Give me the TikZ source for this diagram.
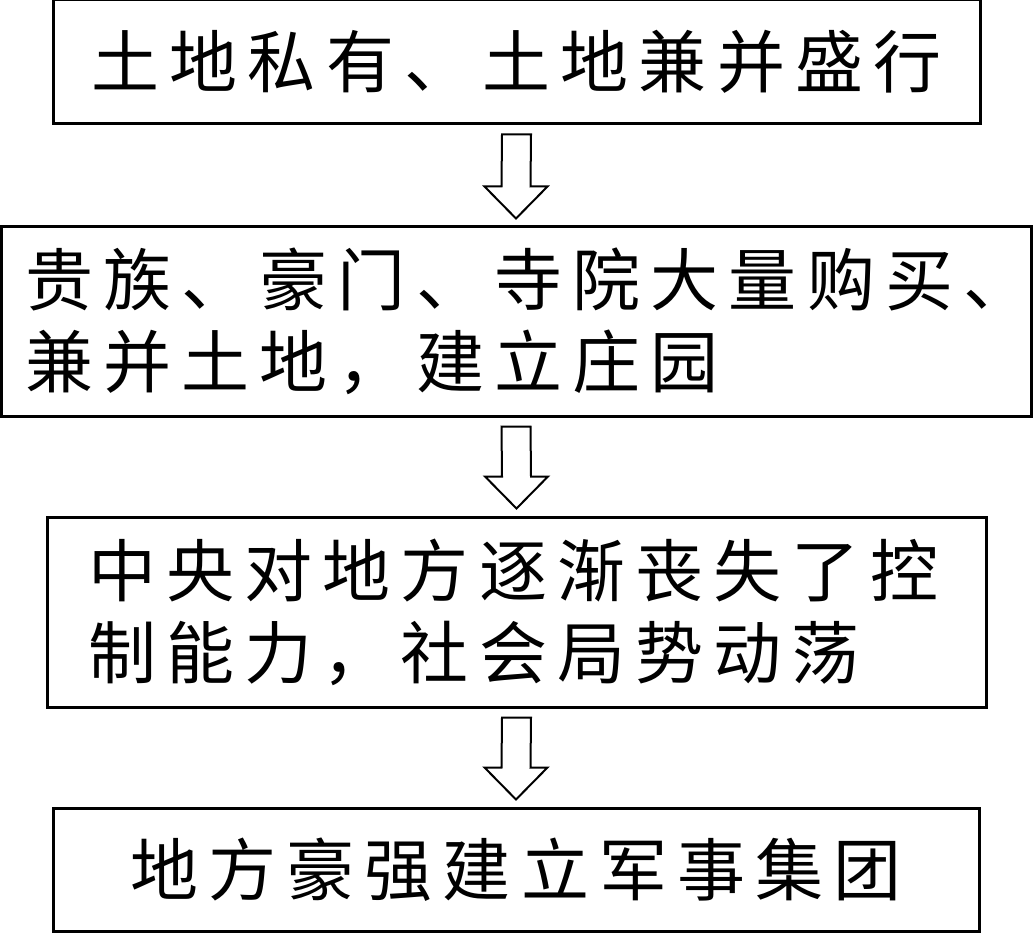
\documentclass[tikz,border=0pt]{standalone}
\usepackage{fontspec}
\usetikzlibrary{calc}
\newfontfamily\cjk[LetterSpace=15]{Noto Sans CJK SC}

% hollow block arrow from the bottom of one box to the top of the next
\newcommand{\flowarrow}[2]{%
	\draw[hollow] ($(#1.south)+(-14.5,-9)$) -- ($(#2.north)+(-14.5,39)$) -- ($(#2.north)+(-31.5,39)$)
		-- ($(#2.north)+(0,7)$) -- ($(#2.north)+(31.5,39)$) -- ($(#2.north)+(14.5,39)$)
		-- ($(#1.south)+(14.5,-9)$) -- cycle;}

\begin{document}
\begin{tikzpicture}[x=1pt,y=1pt,
		box/.style={draw,line width=3pt,inner sep=0pt,font=\fontsize{68pt}{82pt}\cjk},
		hollow/.style={draw,line width=2pt,fill=white,line join=miter}]
	\useasboundingbox (0,0) rectangle (1033,-933);

	\node[box,minimum width=927pt,minimum height=124pt] (landown) at (516.5,-62) {土地私有、土地兼并盛行};
	\node[box,minimum width=1030pt,minimum height=189pt,text width=982pt,align=left] (manor) at (516,-321.5)
		{贵族、豪门、寺院大量购买、\\兼并土地，建立庄园};
	\node[box,minimum width=939pt,minimum height=190pt,text width=857pt,align=left] (unrest) at (516.5,-612)
		{中央对地方逐渐丧失了控\\制能力，社会局势动荡};
	\node[box,minimum width=926pt,minimum height=123pt] (warlord) at (516,-869.5) {地方豪强建立军事集团};

	\flowarrow{landown}{manor}
	\flowarrow{manor}{unrest}
	\flowarrow{unrest}{warlord}
\end{tikzpicture}
\end{document}
